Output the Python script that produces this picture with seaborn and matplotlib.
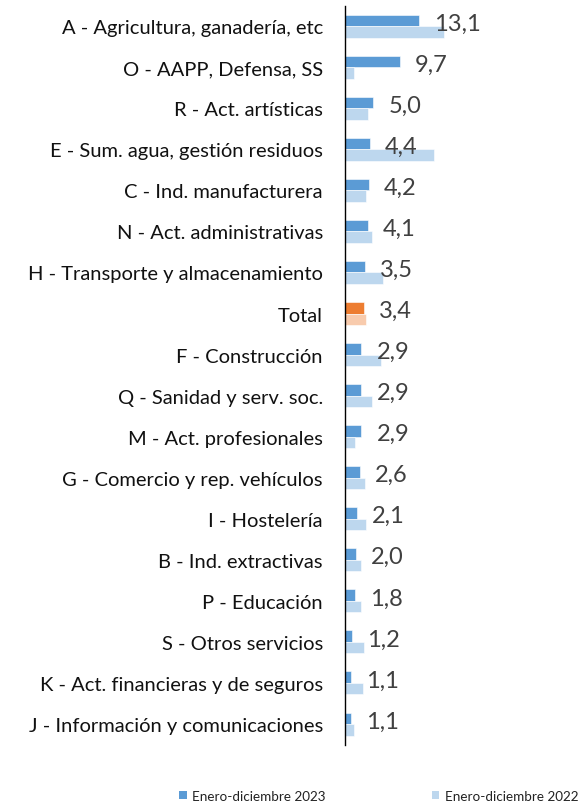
import pandas as pd
import numpy as np
import matplotlib
matplotlib.use("Agg")
import matplotlib.pyplot as plt
import seaborn as sns
from matplotlib.patches import Patch

sectores = [
    "A - Agricultura, ganadería, etc",
    "O - AAPP, Defensa, SS",
    "R - Act. artísticas",
    "E - Sum. agua, gestión residuos",
    "C - Ind. manufacturera",
    "N - Act. administrativas",
    "H - Transporte y almacenamiento",
    "Total",
    "F - Construcción",
    "Q - Sanidad y serv. soc.",
    "M - Act. profesionales",
    "G - Comercio y rep. vehículos",
    "I - Hostelería",
    "B - Ind. extractivas",
    "P - Educación",
    "S - Otros servicios",
    "K - Act. financieras y de seguros",
    "J - Información y comunicaciones",
]
valores_2023 = [13.1, 9.7, 5.0, 4.4, 4.2, 4.1, 3.5, 3.4, 2.9, 2.9, 2.9, 2.6, 2.1, 2.0, 1.8, 1.2, 1.1, 1.1]
valores_2022 = [17.6, 1.5, 4.0, 15.9, 3.8, 4.7, 6.8, 3.8, 6.3, 4.7, 1.7, 3.6, 3.8, 2.9, 2.9, 3.3, 3.1, 1.5]
periodos = ["Enero-diciembre 2023", "Enero-diciembre 2022"]

c23, c22 = "#5B9BD5", "#BDD7EE"
c23_total, c22_total = "#ED7D31", "#F8CBAD"

df = pd.DataFrame({
    "sector": sectores * 2,
    "valor": valores_2023 + valores_2022,
    "periodo": [periodos[0]] * len(sectores) + [periodos[1]] * len(sectores),
})

sns.set_style("white")
plt.rcParams["font.family"] = ["Lato", "DejaVu Sans"]

fig = plt.figure(figsize=(5.8, 8.04), dpi=100)
ax = fig.add_axes([0.595, 0.0727, 0.405, 0.919])

sns.barplot(data=df, x="valor", y="sector", hue="periodo", orient="h",
            width=0.56, palette=[c23, c22], saturation=1, legend=False,
            edgecolor="white", linewidth=0.4, ax=ax)

# recolour the Total row
i_total = sectores.index("Total")
ax.containers[0][i_total].set_facecolor(c23_total)
ax.containers[1][i_total].set_facecolor(c22_total)

# value labels for 2023
for i, v in enumerate(valores_2023):
    ax.annotate(f"{v:.1f}".replace(".", ","), xy=(v, i), xytext=(15, 3),
                textcoords="offset pixels", va="center", ha="left",
                fontsize=17, color="#404040")

ax.set_xlim(0, 41.8)
ax.set_ylim(len(sectores) - 0.5, -0.5)
ax.set_xlabel("")
ax.set_ylabel("")
ax.set_xticks([])
ax.tick_params(axis="y", length=0, pad=16, labelsize=14.5, labelcolor="#111111")
for s in ["top", "right", "bottom"]:
    ax.spines[s].set_visible(False)
ax.spines["left"].set_color("black")
ax.spines["left"].set_linewidth(1.0)

handles = [Patch(facecolor=c23, edgecolor="none"), Patch(facecolor=c22, edgecolor="none")]
fig.legend(handles, periodos, loc="center", bbox_to_anchor=(0.653, 0.009), ncol=2,
           frameon=False, fontsize=9.7, handlelength=0.55, handleheight=0.55,
           handletextpad=0.4, columnspacing=7.9, labelcolor="#222222")

fig.savefig("out.png", dpi=100)
